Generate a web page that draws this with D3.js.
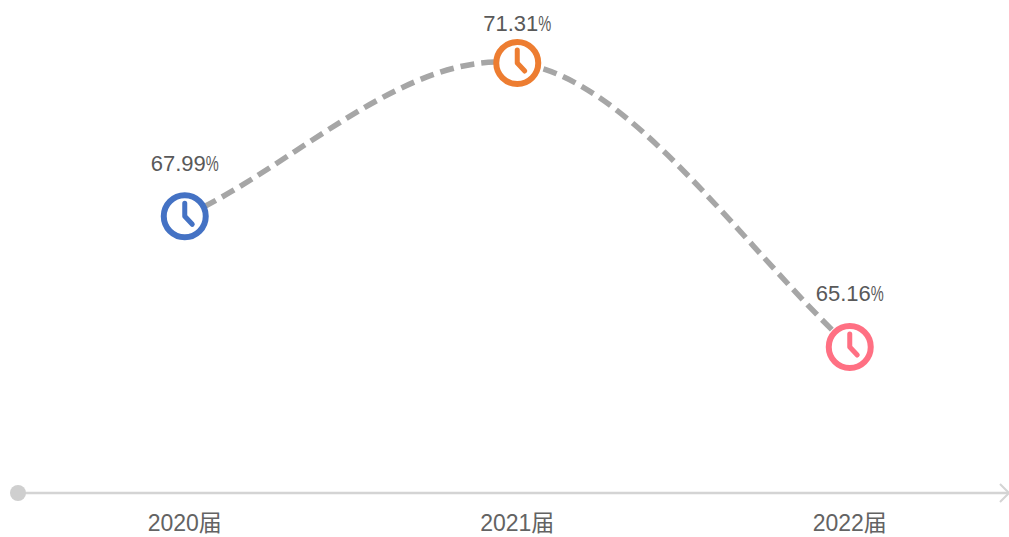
<!DOCTYPE html>
<html><head><meta charset="utf-8">
<script src="https://cdn.jsdelivr.net/npm/d3@7/dist/d3.min.js"></script>
<style>html,body{margin:0;padding:0;background:#fff}svg{display:block}
text{font-family:"Liberation Sans","Noto Sans CJK SC",sans-serif}</style></head>
<body><svg id="c" width="1009" height="537"></svg>
<script>
const categories = ["2020届","2021届","2022届"];
const values = [67.99,71.31,65.16];
const pointColors = ["#4472c4","#ed7d31","#ff7083"];
const labelOffset = [-53,-40,-54];
const svg = d3.select("#c");
const x = d3.scaleBand().domain(categories).range([18.5,1016]);
const y = d3.scaleLinear().domain([65.16,71.31]).range([347,63]);
const cx = d => x(d)+x.bandwidth()/2;
const pts = categories.map((c,i)=>[cx(c),y(values[i])]);

// axis
const axisY = 493;
svg.append("line").attr("x1",18).attr("x2",1008).attr("y1",axisY).attr("y2",axisY)
  .attr("stroke","#d4d4d4").attr("stroke-width",2.5);
svg.append("circle").attr("cx",18).attr("cy",axisY).attr("r",8).attr("fill","#cfcfcf");
svg.append("path").attr("d",d3.line()([[1000,484],[1009,493],[1000,502]]))
  .attr("fill","none").attr("stroke","#d4d4d4").attr("stroke-width",2);
svg.selectAll(".tick").data(categories).join("text").attr("class","tick")
  .attr("x",d=>cx(d)).attr("y",531).attr("text-anchor","middle")
  .attr("font-size",23).attr("fill","#636363").text(d=>d);

// smooth line: Hermite tangents derived from the points
const slope = (a,b)=>(b[1]-a[1])/(b[0]-a[0]);
const tangent = i => i===0 ? slope(pts[0],pts[1])
  : i===pts.length-1 ? slope(pts[i-1],pts[i])*1.1
  : slope(pts[i-1],pts[i+1])*0.6;
const path = d3.path();
path.moveTo(pts[0][0],pts[0][1]);
for(let i=0;i<pts.length-1;i++){
  const [x0,y0]=pts[i],[x1,y1]=pts[i+1],h=(x1-x0)/3;
  path.bezierCurveTo(x0+h,y0+tangent(i)*h,x1-h,y1-tangent(i+1)*h,x1,y1);
}
svg.append("path").attr("d",path.toString())
  .attr("fill","none").attr("stroke","#a6a6a6").attr("stroke-width",5.5)
  .attr("stroke-dasharray","14 7");

// markers
const g = svg.selectAll(".pt").data(pts).join("g").attr("class","pt")
  .attr("transform",d=>`translate(${d[0]},${d[1]})`);
g.append("circle").attr("r",21).attr("fill","#fff")
  .attr("stroke",(d,i)=>pointColors[i]).attr("stroke-width",6);
g.append("path").attr("d","M0,-13L0,0L7.5,8").attr("fill","none")
  .attr("stroke",(d,i)=>pointColors[i]).attr("stroke-width",5).attr("stroke-linecap","round").attr("stroke-linejoin","round");

// labels
const t = g.append("text").attr("y",(d,i)=>labelOffset[i]+8).attr("text-anchor","middle")
  .attr("font-size",22).attr("fill","#595959");
t.append("tspan").text((d,i)=>values[i].toFixed(2));
t.append("tspan").attr("textLength",13).attr("lengthAdjust","spacingAndGlyphs").text("%");
</script></body></html>
